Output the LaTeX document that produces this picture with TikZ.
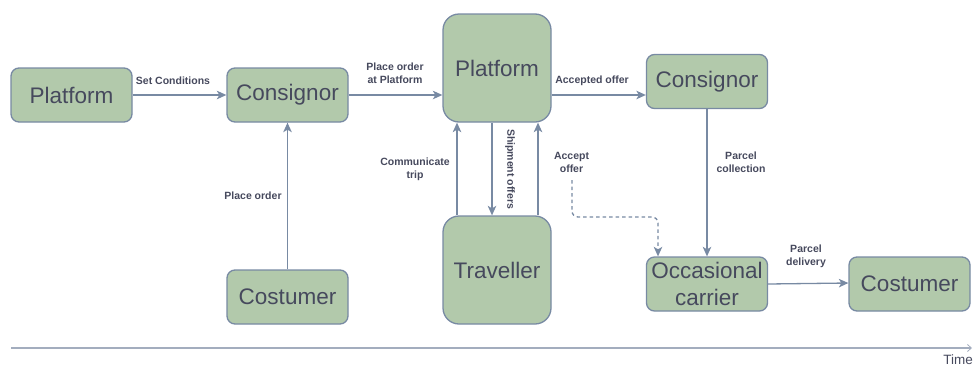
\documentclass[tikz,border=0pt]{standalone}
\usepackage{fontspec}
\setmainfont{Liberation Sans}
\usetikzlibrary{arrows.meta}
\definecolor{boxfill}{HTML}{B2C9AB}
\definecolor{boxline}{HTML}{788AA3}
\definecolor{boxtext}{HTML}{46495D}
\definecolor{axisline}{HTML}{A3ADBE}
\tikzset{
  stage/.style={draw=boxline, fill=boxfill, line width=1.3pt, rounded corners=8pt,
    text=boxtext, font=\fontsize{22.5}{27}\selectfont, align=center,
    minimum width=121pt, minimum height=54pt, inner sep=0pt},
  bigstage/.style={stage, rounded corners=16pt, minimum width=108pt, minimum height=108pt},
  flow/.style={draw=boxline, line width=1.3pt, -{Stealth[length=9.5pt,width=8.5pt,inset=2.5pt]}},
  lbl/.style={text=boxtext, font=\bfseries\fontsize{10.5}{13}\selectfont, align=center, inner sep=0pt},
  timeaxis/.style={draw=axisline, line width=1.6pt, -{Straight Barb[length=4pt,width=7pt,line width=0.8pt]}}
}
\begin{document}
\begin{tikzpicture}[x=1pt,y=-1pt]
\useasboundingbox (0,0) rectangle (974,370);
% nodes
\node[stage] (p1) at (71.5,95) {Platform};
\node[stage] (c1) at (287.5,95) {Consignor};
\node[bigstage] (p2) at (497,68) {Platform};
\node[stage] (cu1) at (287.5,297) {Costumer};
\node[bigstage] (tr) at (497,270) {Traveller};
\node[stage] (c2) at (707,81.5) {Consignor};
\node[stage] (oc) at (707,284) {Occasional\\carrier};
\node[stage] (cu2) at (909.5,284) {Costumer};
% connectors
\draw[flow] (p1) -- (c1);
\draw[flow] (c1) -- (c1 -| p2.west);
\draw[flow] (p2.east |- 0,95) -- (c2.west |- 0,95);
\draw[flow] (cu1) -- (c1);
\draw[flow] (tr.north -| 457,0) -- (p2.south -| 457,0);
\draw[flow] (p2.south -| 492,0) -- (tr.north -| 492,0);
\draw[flow] (tr.north -| 538,0) -- (p2.south -| 538,0);
\draw[flow] (c2) -- (oc);
\draw[flow] (oc.east |- 0,284) -- (cu2.west |- 0,283);
\coordinate (acc) at (572,180);
\draw[flow, dashed, dash pattern=on 3.5pt off 3pt, rounded corners=6pt] (acc) -- (572,217) -- (658,217) -- (oc.north -| 658,0);
% labels
\node[lbl] (l1) at (173,81) {Set Conditions};
\node[lbl] (l2) at (395,73.5) {Place order\\at Platform};
\node[lbl] (l3) at (592,81) {Accepted offer};
\node[lbl] (l4) at (253,196) {Place order};
\node[lbl] (l5) at (415,169) {Communicate\\trip};
\node[lbl, rotate=-90] (l6) at (510,169) {Shipment offers};
\node[lbl] (l7) at (571.5,162) {Accept\\offer};
\node[lbl] (l8) at (741,162.5) {Parcel\\collection};
\node[lbl] (l9) at (806,256.5) {Parcel\\delivery};
% time axis
\coordinate (t0) at (11,348);
\coordinate (t1) at (972,348);
\draw[timeaxis] (t0) -- (t1);
\node[text=boxtext, font=\fontsize{13.5}{15}\selectfont, anchor=north east, inner sep=0pt] (tl) at (973,355) {Time};
\end{tikzpicture}
\end{document}
